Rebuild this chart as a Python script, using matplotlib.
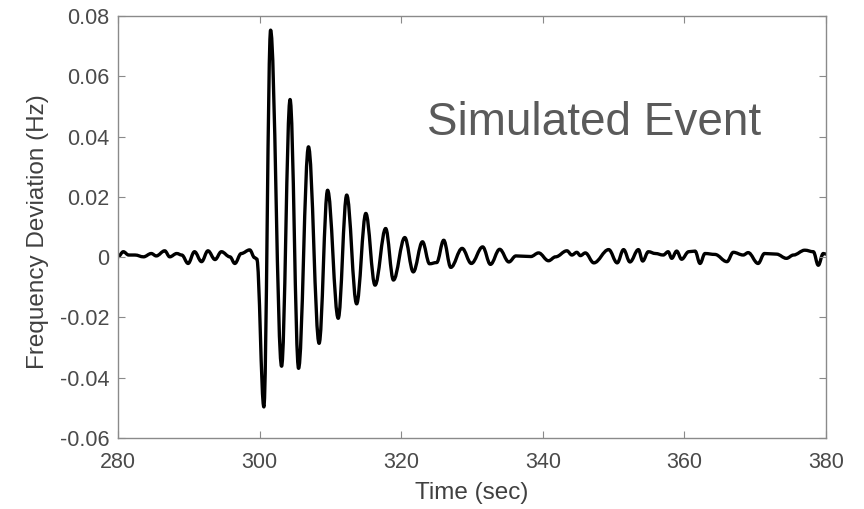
import matplotlib
matplotlib.use("Agg")
import matplotlib.pyplot as plt
from matplotlib.path import Path
from matplotlib.patches import PathPatch

plt.rcParams['font.family'] = ['Liberation Sans', 'DejaVu Sans']

# turning points of the frequency trace (sec, Hz)
time_s = [
    280.0, 280.75, 281.5, 282.4, 283.6, 284.7, 285.4, 286.6, 287.3, 288.3,
    289.0, 289.9, 290.8, 291.8, 292.7, 293.7, 294.6, 295.8, 296.5, 297.4,
    298.6, 299.3, 299.6,
    300.6, 301.55, 303.1, 304.3, 305.5, 306.9, 308.4, 309.6, 311.1, 312.3,
    313.7, 315.0, 316.3, 317.8, 318.9, 320.5, 321.7, 323.0, 324.0, 325.0,
    326.0, 327.0, 328.6, 329.9, 331.5, 332.6, 333.9, 335.2, 336.2, 338.3,
    339.4, 340.8, 341.8, 343.4, 344.1, 344.8, 345.3, 346.0, 347.2, 349.3,
    350.5, 351.4, 352.3, 353.5, 354.1, 354.9, 355.9, 357.0, 357.7, 358.2,
    358.9, 359.6, 360.6, 361.5, 362.2, 362.9, 364.3, 366.0, 366.9, 368.3,
    369.0, 370.4, 371.3, 373.0, 374.4, 375.4, 377.0, 378.2, 378.9, 379.6,
    380.0,
]
freq_dev = [
    0.0001, 0.0018, 0.0007, 0.0007, 0.0001, 0.0012, 0.0004, 0.0021, 0.0001, 0.0012,
    0.0007, -0.0021, 0.0018, -0.0015, 0.0021, -0.0008, 0.0018, 0.0001, -0.0021, 0.0012,
    0.0024, -0.0002, -0.0006,
    -0.0497, 0.0753, -0.0362, 0.0523, -0.0369, 0.0366, -0.0286, 0.0222, -0.0203, 0.0206,
    -0.0155, 0.0145, -0.0093, 0.0095, -0.0076, 0.0065, -0.0049, 0.0051, -0.0022, -0.0018,
    0.0056, -0.0034, 0.0029, -0.0021, 0.0034, -0.0024, 0.0026, -0.0016, 0.0004, 0.0002,
    0.0014, -0.0012, 0.0001, 0.0021, 0.0007, 0.0016, 0.0005, 0.0014, -0.0019, 0.0025,
    -0.0019, 0.0025, -0.0016, 0.0025, -0.0013, 0.0018, 0.0012, 0.0007, 0.0018, -0.0004,
    0.0020, -0.0007, 0.0018, 0.0020, -0.0021, 0.0012, 0.0009, -0.0015, 0.0016, 0.0007,
    0.0015, -0.0021, 0.0012, 0.0010, -0.0004, 0.0007, 0.0023, 0.0018, -0.0027, 0.0012,
    0.0010,
]

x_ticks = [280, 300, 320, 340, 360, 380]
y_ticks = [-0.06, -0.04, -0.02, 0, 0.02, 0.04, 0.06, 0.08]
y_tick_labels = ['-0.06', '-0.04', '-0.02', '0', '0.02', '0.04', '0.06', '0.08']

fig = plt.figure(figsize=(8.64, 5.09), dpi=100)
ax = fig.add_axes([0.1366, 0.1395, 0.8195, 0.8291])

# smooth the trace between turning points with flat-tangent bezier segments
verts = [(time_s[0], freq_dev[0])]
codes = [Path.MOVETO]
for t0, f0, t1, f1 in zip(time_s[:-1], freq_dev[:-1], time_s[1:], freq_dev[1:]):
    h = t1 - t0
    verts += [(t0 + 0.37 * h, f0), (t1 - 0.37 * h, f1), (t1, f1)]
    codes += [Path.CURVE4] * 3
ax.add_patch(PathPatch(Path(verts, codes), facecolor='none', edgecolor='black',
                       lw=2.4, joinstyle='round', capstyle='round'))

ax.set_xlim(280, 380)
ax.set_ylim(-0.06, 0.08)
ax.set_xticks(x_ticks)
ax.set_yticks(y_ticks)
ax.set_yticklabels(y_tick_labels)

ax.tick_params(direction='in', top=True, right=True, length=5, width=0.8,
               color='#8a8a8a', labelcolor='#4a4a4a', labelsize=15.5)
ax.tick_params(axis='x', pad=10)
ax.tick_params(axis='y', pad=6)
for sp in ax.spines.values():
    sp.set_color('#8a8a8a')
    sp.set_linewidth(1.0)

ax.set_xlabel('Time (sec)', fontsize=17.5, color='#404040')
ax.set_ylabel('Frequency Deviation (Hz)', fontsize=17.5, color='#404040')
ax.xaxis.set_label_coords(0.50, -0.105)
ax.yaxis.set_label_coords(-0.097, 0.49)

ax.text(323.6, 0.0445, 'Simulated Event', fontsize=33, color='#5a5a5a',
        va='center', ha='left')

fig.savefig('out.png', dpi=100)
